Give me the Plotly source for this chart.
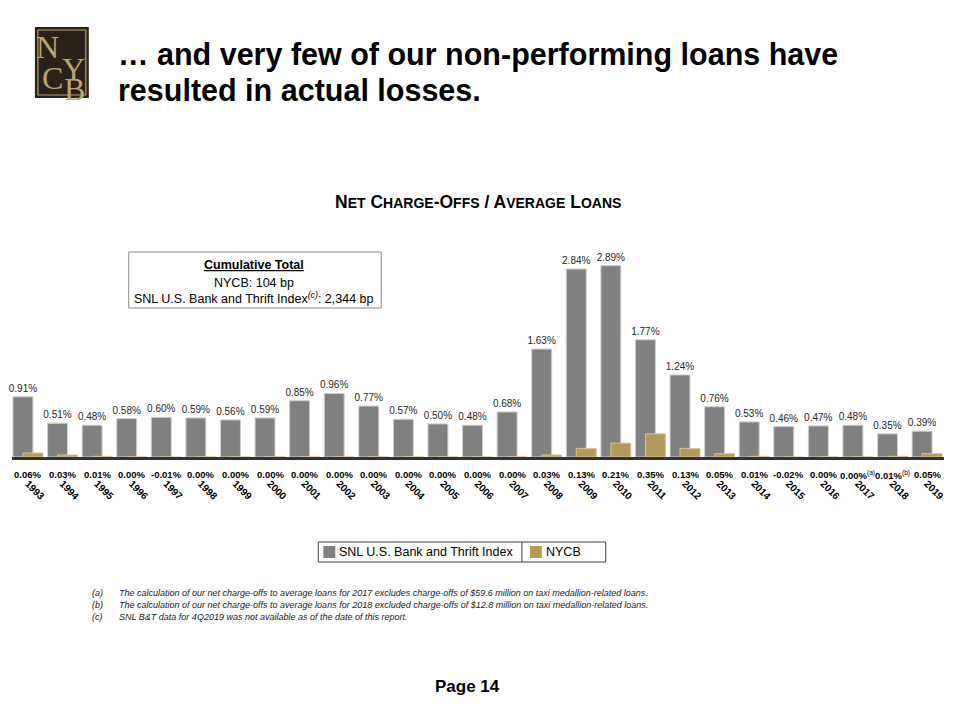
import plotly.graph_objects as go

# ---------------- data ----------------
years = ["1993", "1994", "1995", "1996", "1997", "1998", "1999", "2000", "2001",
         "2002", "2003", "2004", "2005", "2006", "2007", "2008", "2009", "2010",
         "2011", "2012", "2013", "2014", "2015", "2016", "2017", "2018", "2019"]
snl_index = [0.91, 0.51, 0.48, 0.58, 0.60, 0.59, 0.56, 0.59, 0.85, 0.96, 0.77,
             0.57, 0.50, 0.48, 0.68, 1.63, 2.84, 2.89, 1.77, 1.24, 0.76, 0.53,
             0.46, 0.47, 0.48, 0.35, 0.39]
nycb = [0.06, 0.03, 0.01, 0.00, -0.01, 0.00, 0.00, 0.00, 0.00, 0.00, 0.00,
        0.00, 0.00, 0.00, 0.00, 0.03, 0.13, 0.21, 0.35, 0.13, 0.05, 0.01,
        -0.02, 0.00, 0.00, 0.01, 0.05]
nycb_notes = [""] * 24 + ["(a)", "(b)", ""]

title_lines = ["… and very few of our non-performing loans have",
               "resulted in actual losses."]
chart_title = "Net Charge-Offs / Average Loans"
box_lines = ["Cumulative Total", "NYCB: 104 bp",
             "SNL U.S. Bank and Thrift Index<sup><i>(c)</i></sup>: 2,344 bp"]
series_names = ["SNL U.S. Bank and Thrift Index", "NYCB"]
footnotes = [
    ("(a)", "The calculation of our net charge-offs to average loans for 2017 excludes charge-offs of $59.6 million on taxi medallion-related loans."),
    ("(b)", "The calculation of our net charge-offs to average loans for 2018 excluded charge-offs of $12.8 million on taxi medallion-related loans."),
    ("(c)", "SNL B&T data for 4Q2019 was not available as of the date of this report."),
]
page_label = "Page 14"

# ---------------- style ----------------
FONT = "Liberation Sans, Arial, sans-serif"
SERIF = "Liberation Serif, DejaVu Serif, serif"
GRAY = "#808080"
GOLD = "#b5995b"
W, H = 960, 720


def px(x):
    return x / W


def py(y):
    return 1 - y / H


def smallcaps(text, small=14):
    out = []
    for word in text.split(" "):
        s = ""
        for i, ch in enumerate(word):
            prev = word[i - 1] if i > 0 else ""
            if ch.isalpha() and (i == 0 or not prev.isalpha()):
                s += ch.upper()
            elif ch.isalpha():
                s += f"<span style='font-size:{small}px'>{ch.upper()}</span>"
            else:
                s += ch
        out.append(s)
    return " ".join(out)


fig = go.Figure()

fig.add_trace(go.Bar(
    x=years, y=snl_index, name=series_names[0],
    width=0.577, offset=-0.433,
    marker=dict(color=GRAY, line=dict(color="#cfcfcf", width=1)),
    text=[f"{v:.2f}%" for v in snl_index], textposition="outside",
    textfont=dict(family=FONT, size=10, color="#262626"),
    constraintext="none", cliponaxis=False, showlegend=False,
))
fig.add_trace(go.Bar(
    x=years, y=nycb, name=series_names[1],
    width=0.577, offset=-0.144,
    marker=dict(color=GOLD, line=dict(color="#d6c595", width=1)),
    showlegend=False,
))

# NYCB value labels under the axis (x given as category serial number)
for i, (v, note) in enumerate(zip(nycb, nycb_notes)):
    txt = f"<b>{v:.2f}%</b>"
    if note:
        txt += f"<sup>{note}</sup>"
    fig.add_annotation(x=i, y=0, xref="x", yref="y", text=txt, showarrow=False,
                       yshift=-18, xanchor="center", yanchor="middle",
                       font=dict(family=FONT, size=9.5, color="#000000"))

annotations = []
shapes = []

# Logo
shapes.append(dict(type="rect", xref="paper", yref="paper", x0=px(35), x1=px(89),
                   y0=py(98), y1=py(27), fillcolor="#2a2218", line=dict(width=0)))
shapes.append(dict(type="rect", xref="paper", yref="paper", x0=px(38), x1=px(86),
                   y0=py(95), y1=py(30), fillcolor="rgba(0,0,0,0)",
                   line=dict(color="#b3a070", width=1.2)))
for letter, lx, ly in [("N", 48, 47), ("Y", 74, 69), ("C", 53, 78), ("B", 75, 89)]:
    annotations.append(dict(x=px(lx), y=py(ly), xref="paper", yref="paper", text=letter,
                            showarrow=False, xanchor="center", yanchor="middle",
                            font=dict(family=SERIF, size=32, color="#b8a574")))

# Title (two lines)
for line, yy in zip(title_lines, [55, 90]):
    annotations.append(dict(x=px(116), y=py(yy), xref="paper", yref="paper",
                            text=line, showarrow=False,
                            xanchor="left", yanchor="middle", align="left",
                            font=dict(family=FONT, size=30.5, color="#000000", weight="bold")))

# Chart title
annotations.append(dict(x=px(479), y=py(202), xref="paper", yref="paper",
                        text="<b>" + smallcaps(chart_title) + "</b>", showarrow=False,
                        xanchor="center", yanchor="middle",
                        font=dict(family=FONT, size=17.5, color="#000000")))

# Cumulative box
shapes.append(dict(type="rect", xref="paper", yref="paper", x0=px(129), x1=px(382),
                   y0=py(308), y1=py(252), line=dict(color="#8a8a8a", width=1),
                   fillcolor="white"))
for k, (txt, yy) in enumerate(zip(box_lines, [265, 283, 298])):
    if k == 0:
        txt = f"<b><u>{txt}</u></b>"
    annotations.append(dict(x=px(255), y=py(yy), xref="paper", yref="paper", text=txt,
                            showarrow=False, xanchor="center", yanchor="middle",
                            font=dict(family=FONT, size=12.5, color="#000000")))

# Legend (boxed, two cells)
shapes.append(dict(type="rect", xref="paper", yref="paper", x0=px(319), x1=px(607),
                   y0=py(562), y1=py(542), line=dict(color="#404040", width=1)))
shapes.append(dict(type="line", xref="paper", yref="paper", x0=px(523), x1=px(523),
                   y0=py(562), y1=py(542), line=dict(color="#404040", width=1)))
for name, col, sx in [(series_names[0], GRAY, 324), (series_names[1], GOLD, 531)]:
    shapes.append(dict(type="rect", xref="paper", yref="paper", x0=px(sx), x1=px(sx + 12),
                       y0=py(558), y1=py(546), fillcolor=col, line=dict(width=0)))
    annotations.append(dict(x=px(sx + 14), y=py(552), xref="paper", yref="paper", text=name,
                            showarrow=False, xanchor="left", yanchor="middle",
                            font=dict(family=FONT, size=12.5, color="#000000")))

# Footnotes
for (mark, txt), yy in zip(footnotes, [593, 605, 617]):
    annotations.append(dict(x=px(90), y=py(yy), xref="paper", yref="paper",
                            text=f"<i>{mark}</i>", showarrow=False, xanchor="left",
                            yanchor="middle", font=dict(family=FONT, size=9, color="#1a1a1a")))
    annotations.append(dict(x=px(117), y=py(yy), xref="paper", yref="paper",
                            text=f"<i>{txt}</i>", showarrow=False, xanchor="left",
                            yanchor="middle", font=dict(family=FONT, size=9, color="#1a1a1a")))

# Page label
annotations.append(dict(x=px(468), y=py(686), xref="paper", yref="paper",
                        text=f"<b>{page_label}</b>", showarrow=False,
                        xanchor="center", yanchor="middle",
                        font=dict(family=FONT, size=17, color="#000000")))

for a in annotations:
    fig.add_annotation(**a)

per_pct = 66.2
y_top = (457 - 240) / per_pct

fig.update_layout(
    width=W, height=H, margin=dict(l=0, r=0, t=0, b=0),
    paper_bgcolor="white", plot_bgcolor="white",
    barmode="overlay", shapes=shapes,
    font=dict(family=FONT),
    xaxis=dict(domain=[px(12), px(946)], range=[-0.462, 26.49], type="category",
               showline=True, linecolor="#333333", linewidth=3, layer="above traces",
               showgrid=False, zeroline=False, ticks="", tickangle=45,
               ticklabelstandoff=14,
               tickfont=dict(family=FONT, size=10, color="#000000", weight="bold")),
    yaxis=dict(domain=[py(457), py(240)], range=[0, y_top], visible=False,
               showgrid=False, zeroline=False),
)

fig.write_html("out.html", config={"displayModeBar": False},
               post_script="document.body.style.margin='0';document.body.style.overflow='hidden';")
